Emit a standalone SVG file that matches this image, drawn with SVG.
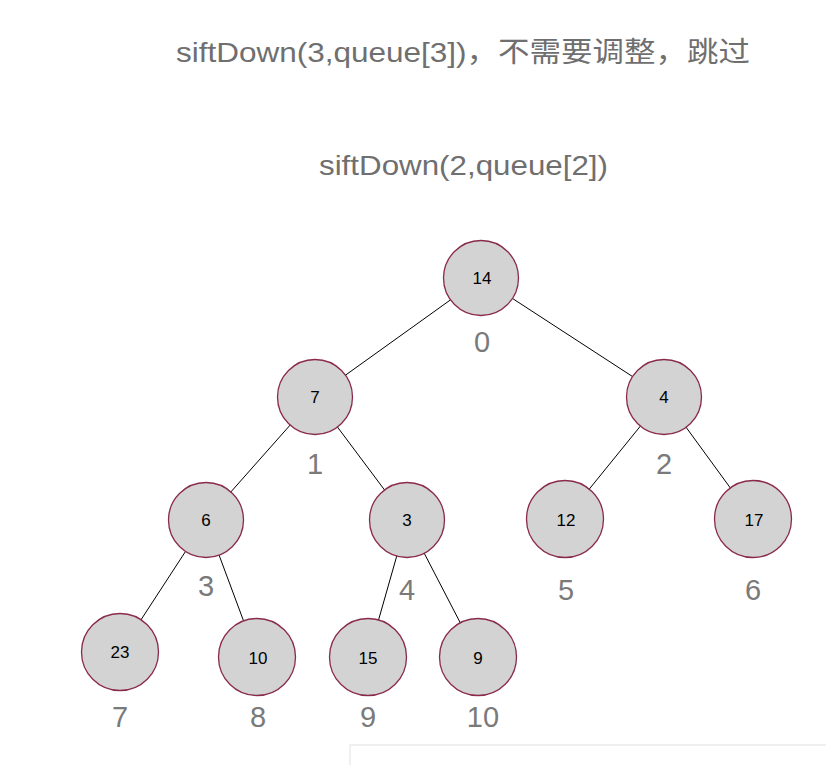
<svg xmlns="http://www.w3.org/2000/svg" width="826" height="765" viewBox="0 0 826 765">
<style>
.title{font-family:"Liberation Sans","Noto Sans CJK SC",sans-serif;font-size:28px;fill:#6f6f6f}
.node circle{fill:#d3d3d3;stroke:#8a2a4a;stroke-width:1.3}
.node text{font-family:"Liberation Sans",Arial,sans-serif;font-size:17px;fill:#000;text-anchor:middle}
.idx{font-family:"Liberation Sans",Arial,sans-serif;font-size:29px;fill:#7a7a7a;text-anchor:middle}
#edges line{stroke:#000;stroke-width:1}
</style>
<rect width="826" height="765" fill="#fff"/>
<rect x="350" y="745" width="490" height="30" fill="#fff" stroke="#f0f0f0" stroke-width="2"/>
<text class="title" x="176" y="62" textLength="574" lengthAdjust="spacingAndGlyphs">siftDown(3,queue[3])，不需要调整，跳过</text>
<text class="title" x="319" y="175" textLength="289" lengthAdjust="spacingAndGlyphs">siftDown(2,queue[2])</text>
<g id="edges">
<line x1="481" y1="278" x2="315" y2="397"/>
<line x1="481" y1="278" x2="664" y2="397"/>
<line x1="315" y1="397" x2="206" y2="520"/>
<line x1="315" y1="397" x2="407" y2="520"/>
<line x1="664" y1="397" x2="565" y2="519"/>
<line x1="664" y1="397" x2="753" y2="519"/>
<line x1="206" y1="520" x2="120" y2="652"/>
<line x1="206" y1="520" x2="257" y2="657"/>
<line x1="407" y1="520" x2="368" y2="657"/>
<line x1="407" y1="520" x2="478" y2="657"/>
</g>
<g id="n0" class="node"><circle cx="481" cy="278" r="37.5"/><text x="482" y="284">14</text></g>
<g id="n1" class="node"><circle cx="315" cy="397" r="37.5"/><text x="315" y="403">7</text></g>
<g id="n2" class="node"><circle cx="664" cy="397" r="37.5"/><text x="664" y="403">4</text></g>
<g id="n3" class="node"><circle cx="206" cy="520" r="37.5"/><text x="206" y="526">6</text></g>
<g id="n4" class="node"><circle cx="407" cy="520" r="37.5"/><text x="407" y="526">3</text></g>
<g id="n5" class="node"><circle cx="565" cy="519" r="38.5"/><text x="566" y="526">12</text></g>
<g id="n6" class="node"><circle cx="753" cy="519" r="38.5"/><text x="754" y="526">17</text></g>
<g id="n7" class="node"><circle cx="120" cy="652" r="38.5"/><text x="120" y="658">23</text></g>
<g id="n8" class="node"><circle cx="257" cy="657" r="38.5"/><text x="258" y="664">10</text></g>
<g id="n9" class="node"><circle cx="368" cy="657" r="38.5"/><text x="368" y="664">15</text></g>
<g id="n10" class="node"><circle cx="478" cy="657" r="38.5"/><text x="478" y="664">9</text></g>
<g id="labels">
<text class="idx" x="482" y="352">0</text>
<text class="idx" x="315" y="474">1</text>
<text class="idx" x="664" y="474">2</text>
<text class="idx" x="206" y="596">3</text>
<text class="idx" x="407" y="600">4</text>
<text class="idx" x="566" y="600">5</text>
<text class="idx" x="753" y="600">6</text>
<text class="idx" x="120" y="727">7</text>
<text class="idx" x="258" y="727">8</text>
<text class="idx" x="368" y="727">9</text>
<text class="idx" x="483" y="727">10</text>
</g>
</svg>
